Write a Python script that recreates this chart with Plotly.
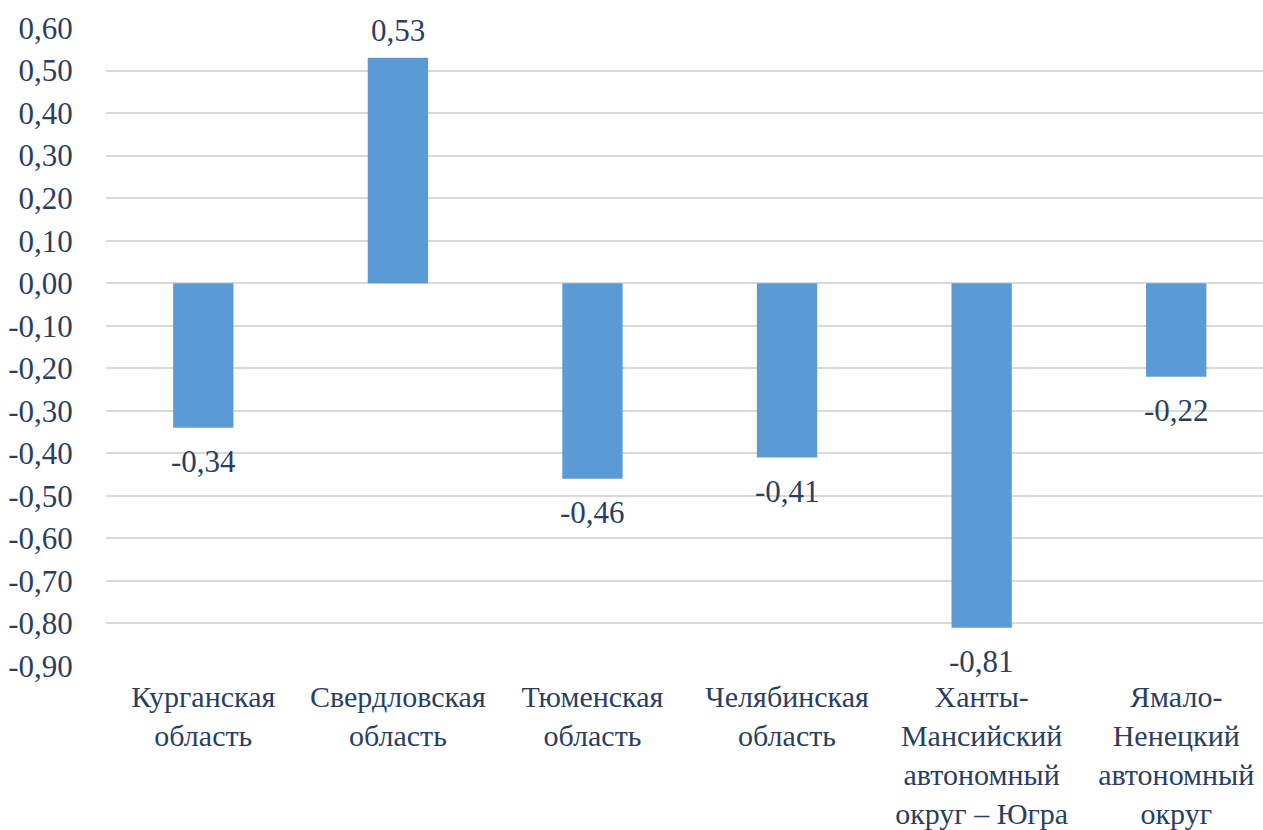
import plotly.graph_objects as go

categories = [
    "Курганская<br>область",
    "Свердловская<br>область",
    "Тюменская<br>область",
    "Челябинская<br>область",
    "Ханты-<br>Мансийский<br>автономный<br>округ – Югра",
    "Ямало-<br>Ненецкий<br>автономный<br>округ",
]
values = [-0.34, 0.53, -0.46, -0.41, -0.81, -0.22]
value_labels = ["-0,34", "0,53", "-0,46", "-0,41", "-0,81", "-0,22"]
tick_values = [0.6, 0.5, 0.4, 0.3, 0.2, 0.1, 0.0, -0.1, -0.2, -0.3, -0.4, -0.5, -0.6, -0.7, -0.8, -0.9]
tick_labels = ["0,60", "0,50", "0,40", "0,30", "0,20", "0,10", "0,00", "-0,10", "-0,20",
               "-0,30", "-0,40", "-0,50", "-0,60", "-0,70", "-0,80", "-0,90"]

FONT = "Times New Roman"
FS = 31

fig = go.Figure(
    go.Bar(
        x=categories,
        y=values,
        marker=dict(color="#5B9BD5", line=dict(width=0)),
        cliponaxis=False,
    )
)

for c, v, t in zip(categories, values, value_labels):
    fig.add_annotation(
        x=c, y=v, xref="x", yref="y", text=t, showarrow=False,
        yanchor="bottom" if v >= 0 else "top",
        yshift=8 if v >= 0 else -14,
        font=dict(family=FONT, size=FS),
    )

fig.update_layout(
    width=1263,
    height=830,
    margin=dict(l=106, r=0, t=28, b=164),
    plot_bgcolor="white",
    paper_bgcolor="white",
    bargap=0.69,
    showlegend=False,
)
fig.update_yaxes(
    range=[-0.9, 0.6],
    tickvals=tick_values,
    ticktext=tick_labels,
    automargin=False,
    showgrid=True,
    gridcolor="#d9d9d9",
    gridwidth=1.5,
    zeroline=True,
    zerolinecolor="#d9d9d9",
    zerolinewidth=1.5,
    showline=False,
    ticks="outside",
    ticklen=26,
    tickcolor="white",
    tickfont=dict(family=FONT, size=FS),
)
fig.update_xaxes(
    range=[-0.5, 5.446],
    automargin=False,
    showgrid=False,
    showline=False,
    ticks="outside",
    ticklen=4,
    tickcolor="white",
    tickfont=dict(family=FONT, size=30),
)

fig.write_html("out.html")
